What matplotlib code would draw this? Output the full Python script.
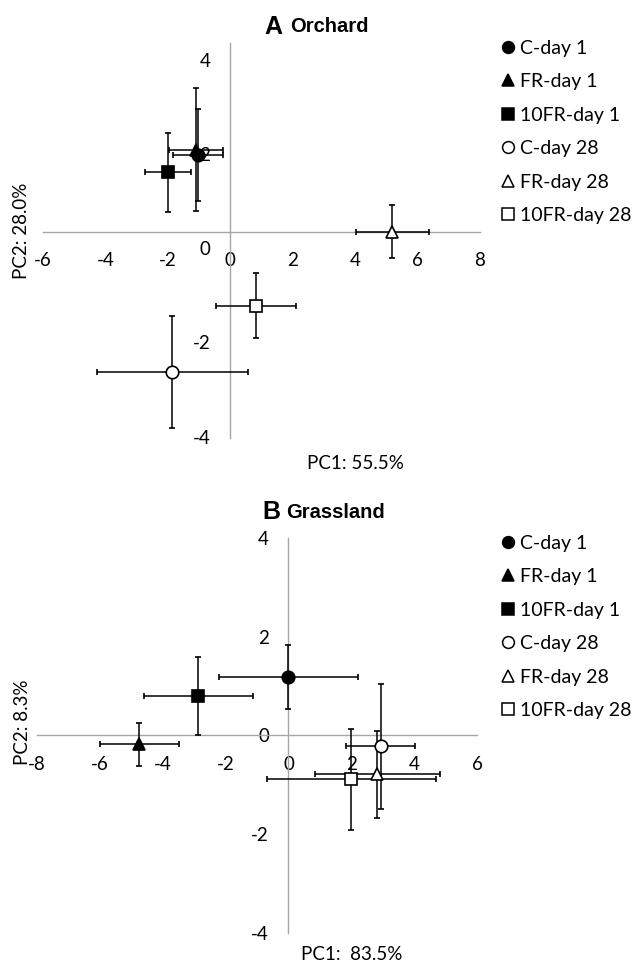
import matplotlib
matplotlib.use("Agg")
import matplotlib.pyplot as plt
from matplotlib.lines import Line2D
from matplotlib.transforms import offset_copy

plt.rcParams['font.family'] = ['Lato', 'DejaVu Sans']

labels = ['C-day 1', 'FR-day 1', '10FR-day 1', 'C-day 28', 'FR-day 28', '10FR-day 28']
markers = ['o', '^', 's', 'o', '^', 's']
faces = ['black', 'black', 'black', 'white', 'white', 'white']

# Orchard PCA scores (mean +/- error)
orch_x = [-1.03, -1.09, -1.99, -1.86, 5.19, 0.83]
orch_y = [1.62, 1.74, 1.26, -2.98, 0.0, -1.57]
orch_xerr = [0.80, 0.87, 0.74, 2.42, 1.17, 1.28]
orch_yerr = [0.97, 1.30, 0.84, 1.19, 0.56, 0.69]

# Grassland PCA scores
grass_x = [0.0, -4.75, -2.87, 2.93, 2.83, 2.0]
grass_y = [1.19, -0.18, 0.79, -0.22, -0.79, -0.89]
grass_xerr = [2.2, 1.26, 1.74, 1.1, 1.99, 2.69]
grass_yerr = [0.65, 0.44, 0.79, 1.27, 0.88, 1.02]

yticks = [-4, -2, 0, 2, 4]

fig = plt.figure(figsize=(6.34, 9.65), dpi=100)
ax1 = fig.add_axes([0.0678, 0.5461, 0.6893, 0.4093])
ax2 = fig.add_axes([0.0584, 0.0332, 0.694, 0.4093])


def setup(ax, xlim, ylim, xticks):
    ax.set_xlim(*xlim)
    ax.set_ylim(*ylim)
    for s in ['top', 'right']:
        ax.spines[s].set_visible(False)
    for s in ['left', 'bottom']:
        ax.spines[s].set_position(('data', 0))
        ax.spines[s].set_color('#a6a6a6')
        ax.spines[s].set_linewidth(1.0)
    ax.set_xticks(xticks)
    ax.set_xticklabels([str(t) for t in xticks])
    ax.tick_params(axis='x', length=0, pad=15, labelsize=13.5)
    ax.tick_params(axis='y', length=0, pad=14, labelsize=13.5)
    ax.patch.set_alpha(0)


def draw(ax, xs, ys, xe, ye):
    for i in range(len(labels)):
        ax.errorbar(xs[i], ys[i], xerr=xe[i], yerr=ye[i], fmt=markers[i],
                    mfc=faces[i], mec='black', mew=1.2, ms=9, color='black',
                    ecolor='black', elinewidth=1.1, capsize=2.5, capthick=1.0,
                    zorder=3)


def legend(ax, anchor):
    handles = [Line2D([], [], ls='none', marker=m, mfc=f, mec='black', mew=1.1, ms=8.5)
               for m, f in zip(markers, faces)]
    ax.legend(handles, labels, loc='upper left', bbox_to_anchor=anchor,
              bbox_transform=fig.transFigure, frameon=False, fontsize=14,
              handlelength=0.6, handletextpad=0.3, labelspacing=0.85,
              borderpad=0, borderaxespad=0)


# Panel A
setup(ax1, (-6, 8), (-4.38, 4), [-6, -4, -2, 0, 2, 4, 6, 8])
ax1.set_yticks(yticks)
ax1.set_yticklabels([])
shifted = offset_copy(ax1.transData, fig=fig, x=-20, y=-18, units='dots')
for v in yticks:
    ax1.text(0, v, str(v), transform=shifted, ha='right', va='center', fontsize=13.5)
draw(ax1, orch_x, orch_y, orch_xerr, orch_yerr)
legend(ax1, (0.792, 0.959))

# Panel B
setup(ax2, (-8, 6), (-4, 4), [-8, -6, -4, -2, 0, 2, 4, 6])
ax2.set_yticks(yticks)
ax2.set_yticklabels([str(t) for t in yticks])
draw(ax2, grass_x, grass_y, grass_xerr, grass_yerr)
legend(ax2, (0.792, 0.446))

# titles and axis labels
fig.text(282 / 634, 1 - 27 / 965, 'A', ha='right', va='center', fontsize=18,
         weight='bold', family='Liberation Sans')
fig.text(290 / 634, 1 - 27 / 965, 'Orchard', ha='left', va='center', fontsize=14.5,
         weight='bold', family='Liberation Sans')
fig.text(280 / 634, 1 - 512 / 965, 'B', ha='right', va='center', fontsize=18,
         weight='bold', family='Liberation Sans')
fig.text(286 / 634, 1 - 512 / 965, 'Grassland', ha='left', va='center', fontsize=14.5,
         weight='bold', family='Liberation Sans')

fig.text(355 / 634, 1 - 463 / 965, 'PC1: 55.5%', ha='center', va='center', fontsize=13.5)
fig.text(352 / 634, 1 - 955 / 965, 'PC1:  83.5%', ha='center', va='center', fontsize=13.5)
fig.text(22 / 634, 1 - 231 / 965, 'PC2: 28.0%', ha='center', va='center', rotation=90, fontsize=13.5)
fig.text(22 / 634, 1 - 722 / 965, 'PC2: 8.3%', ha='center', va='center', rotation=90, fontsize=13.5)

fig.savefig('out.png', dpi=100)
